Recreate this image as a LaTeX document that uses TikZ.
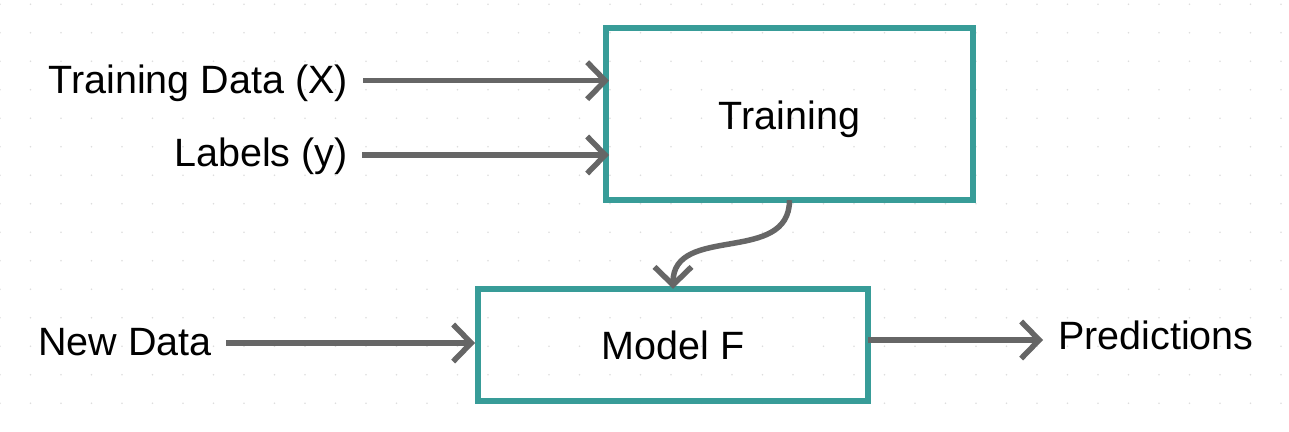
\documentclass[tikz,border=0pt]{standalone}
\usepackage{fontspec}
\setmainfont{Liberation Sans}
\usetikzlibrary{arrows.meta}
\definecolor{teal1}{HTML}{389C98}
\definecolor{line1}{HTML}{666666}
\definecolor{dot1}{HTML}{DDDDDD}
\begin{document}
\begin{tikzpicture}[x=1pt,y=-1pt,
  box/.style={draw=teal1, line width=6.5pt, outer sep=0pt, inner sep=0pt,
    minimum width=#1, text height=30pt, text depth=0pt,
    font=\fontsize{39.5}{45}\selectfont},
  lbl/.style={inner sep=0pt, font=\fontsize{39.5}{45}\selectfont},
  arr/.style={draw=line1, line width=5.5pt,
    -{Straight Barb[length=18pt,width=37pt]}}]
\useasboundingbox (0,0) rectangle (1289,431);
\fill[white] (0,0) rectangle (1289,431);
% dotted grid
\foreach \i in {0,...,42} {
  \foreach \j in {0,...,14} {
    \fill[dot1] (\i*30.5,4.3+\j*28.5) circle (0.9pt);
  }
}
% boxes
\node[box=367pt, minimum height=172pt] (train) at (789.5,114.2) {Training};
\node[box=390pt, minimum height=112.3pt] (model) at (673,344.9) {Model F};
% labels
\node[lbl, anchor=base east] (tdx) at (348,93.3) {Training Data (X)};
\node[lbl, anchor=base east] (lab) at (348,166.7) {Labels (y)};
\node[lbl, anchor=base east] (new) at (212,355) {New Data};
\node[lbl, anchor=base west] (pred) at (1058,349.3) {Predictions};
% arrow ends
\coordinate (c1) at (363,80.7);
\coordinate (c2) at (362,155);
\coordinate (c3) at (226,343);
\coordinate (c4) at (1043,340);
\draw[arr, shorten >=-3pt] (c1) -- (c1 -| train.west);
\draw[arr, shorten >=-3pt] (c2) -- (c2 -| train.west);
\draw[arr, shorten >=3pt] (c3) -- (c3 -| model.west);
\draw[arr] (c4 -| model.east) -- (c4);
\draw[arr] (train.south) .. controls +(0,65) and +(0,-65) .. (model.north);
\end{tikzpicture}
\end{document}
